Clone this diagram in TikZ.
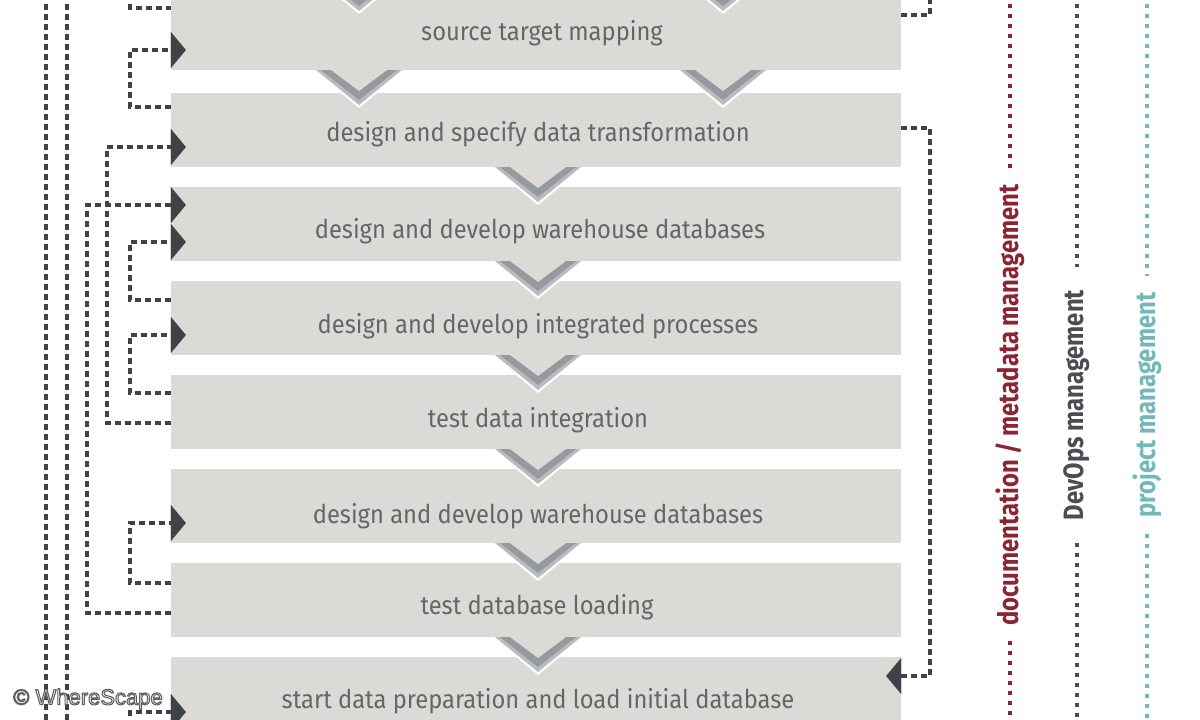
\documentclass[tikz,border=0pt]{standalone}
\usepackage{fontspec}
\setmainfont{Fira Sans}
\newfontfamily\boxfont[FakeStretch=0.92]{Fira Sans}
\newfontfamily\labfont[FakeStretch=0.85]{Fira Sans}
\newfontfamily\wmfont{Liberation Sans}
\usetikzlibrary{arrows.meta}
\definecolor{boxgray}{HTML}{DCDAD7}
\definecolor{chevmid}{HTML}{B9BBBE}
\definecolor{chevdark}{HTML}{96999E}
\definecolor{txtgray}{HTML}{656668}
\definecolor{conncol}{HTML}{3F4247}
\definecolor{docred}{HTML}{8C2433}
\definecolor{devgray}{HTML}{4A4D52}
\definecolor{projteal}{HTML}{74B8B8}
\newcommand\haloon{\special{pdf:literal direct 2 Tr 1.1 w 1 j 0.38 0.38 0.38 RG}}
\newcommand\halooff{\special{pdf:literal direct 0 Tr}}
\begin{document}
\begin{tikzpicture}[x=1pt,y=-1pt,
  box/.style={fill=boxgray, draw=none, minimum width=730pt, minimum height=74pt, inner sep=0pt},
  boxtext/.style={text=txtgray, font=\boxfont\fontsize{25.8}{25.8}\selectfont, inner sep=0pt, yshift=-2.5pt},
  conn/.style={draw=conncol, line width=3.6pt, dash pattern=on 6pt off 4pt},
  arrhead/.style={-{Triangle[length=15pt,width=36pt,line width=0.01pt]}},
  vlab/.style={rotate=90, font=\labfont\bfseries\fontsize{28}{28}\selectfont, inner ysep=0pt, inner xsep=15pt},
  vline/.style={line width=3.5pt, dash pattern=on 4pt off 6pt},
  chevron/.pic={
    \fill[white] (-46,0) -- (46,0) -- (0,38) -- cycle;
    \fill[chevmid] (-43,0) -- (43,0) -- (0,35) -- cycle;
    \fill[chevdark] (-38,0) -- (38,0) -- (0,30) -- cycle;
    \fill[boxgray] (-28,0) -- (28,0) -- (0,21) -- cycle;
  }]
\useasboundingbox (0,0) rectangle (1200,720);
\clip (0,0) rectangle (1200,720);
\fill[white] (0,0) rectangle (1200,720);

% boxes
\node[box] (b1) at (536,33) {};
\node[box] (b2) at (536,130) {};
\node[box] (b3) at (536,224) {};
\node[box] (b4) at (536,318) {};
\node[box] (b5) at (536,412) {};
\node[box] (b6) at (536,506) {};
\node[box] (b7) at (536,600) {};
\node[box] (b8) at (536,694) {};

% chevrons
\pic at (359,-24) {chevron};
\pic at (723,-24) {chevron};
\pic at (359,70) {chevron};
\pic at (723,70) {chevron};
\foreach \yy in {167,261,355,449,543,637} {\pic at (538,\yy) {chevron};}

% box texts
\node[boxtext] (t1) at (542,31) {source target mapping};
\node[boxtext] (t2) at (538,132) {design and specify data transformation};
\node[boxtext] (t3) at (540,229) {design and develop warehouse databases};
\node[boxtext] (t4) at (538,324) {design and develop integrated processes};
\node[boxtext] (t5) at (538,418) {test data integration};
\node[boxtext] (t6) at (538,514) {design and develop warehouse databases};
\node[boxtext] (t7) at (537,605) {test database loading};
\node[boxtext] (t8) at (538,699) {start data preparation and load initial database};

% left long lines
\draw[conn] (46,-6) -- (46,726);
\draw[conn] (67,-6) -- (67,726);

% left feedback connectors
\draw[conn] (130,-6) |- (b1.west |- 0,8);
\draw[conn,arrhead] (b2.west |- 0,107) -| (130,50) -- ([xshift=15pt]b1.west |- 0,50);
\draw[conn,arrhead] (b5.west |- 0,423) -| (107,147) -- ([xshift=15pt]b2.west |- 0,147);
\draw[conn,arrhead] (b7.west |- 0,613) -| (87,205) -- ([xshift=15pt]b3.west |- 0,205);
\draw[conn,arrhead] (b4.west |- 0,300) -| (130,242) -- ([xshift=15pt]b3.west |- 0,242);
\draw[conn,arrhead] (b5.west |- 0,393) -| (130,335) -- ([xshift=15pt]b4.west |- 0,335);
\draw[conn,arrhead] (b7.west |- 0,583) -| (130,523) -- ([xshift=15pt]b6.west |- 0,523);
\draw[conn,arrhead] (130,726) |- ([xshift=15pt]b8.west |- 0,712);

% right connectors
\draw[conn] (b1.east |- 0,15) -| (930,-6);
\draw[conn,arrhead] (b2.east |- 0,128) -| (930,676) -- ([xshift=-15pt]b8.east |- 0,676);

% vertical labels
\node[vlab, text=docred] (ldoc) at (1010,405) {documentation / metadata management};
\draw[vline, draw=docred] (1010,-6) -- (ldoc.east);
\draw[vline, draw=docred] (ldoc.west) -- (1010,726);
\node[vlab, text=devgray, inner xsep=23pt] (ldev) at (1077,405) {DevOps management};
\draw[vline, draw=devgray] (1077,-6) -- (ldev.east);
\draw[vline, draw=devgray] (ldev.west) -- (1077,726);
\node[vlab, text=projteal, inner xsep=17pt] (lproj) at (1147,405) {project management};
\draw[vline, draw=projteal] (1147,-6) -- (lproj.east);
\draw[vline, draw=projteal] (lproj.west) -- (1147,726);

% watermark (white text with dark halo)
\node[font=\wmfont\fontsize{22}{22}\selectfont, text=white, inner sep=0pt] (wm) at (88,699) {\haloon© WhereScape\halooff};
\end{tikzpicture}
\end{document}
